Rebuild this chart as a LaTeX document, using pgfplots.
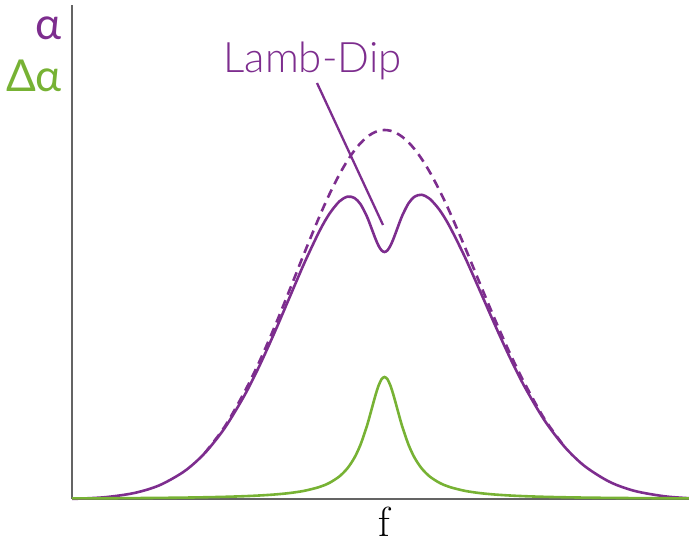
\documentclass[border=0pt]{standalone}
\usepackage{pgfplots}
\pgfplotsset{compat=1.18}
\usepackage{fontspec}
\newfontfamily\lato{Lato}
\newfontfamily\latolight{Lato Light}

\definecolor{absorb}{RGB}{125,45,142}
\definecolor{diff}{RGB}{119,178,52}
\definecolor{axisgray}{RGB}{100,100,100}

\begin{document}
\begin{tikzpicture}
\useasboundingbox (0,0) rectangle (689pt,545pt);
\begin{axis}[
  at={(72pt,46pt)}, anchor=south west,
  scale only axis, width=617pt, height=494pt,
  xmin=72, xmax=689, ymin=0, ymax=494,
  axis lines=left,
  axis line style={-, draw=axisgray, line width=1.8pt},
  xtick=\empty, ytick=\empty,
  clip=false,
]
% Doppler-broadened profile without saturation (tails coincide with the solid curve)
\addplot[absorb, line width=2.6pt, dash pattern=on 9pt off 6pt, smooth] coordinates {
(204.5,45.60) (224.5,72.0) (244.5,107.08) (259.5,137.62) (274.5,171.91) (289.5,208.75)
(304.5,246.37) (319.5,282.62) (329.5,304.86) (339.5,324.72) (347.5,338.45)
(354.5,348.62) (360.5,355.82) (366.5,361.53) (372.5,365.66) (378.5,368.16)
(384.5,369) (390.5,368.22) (396.5,365.87) (402.5,362.00) (408.5,356.65)
(414.5,349.89) (421.5,340.33) (429.5,327.40) (439.5,308.62) (449.5,287.50)
(464.5,252.84) (479.5,216.51) (494.5,180.55) (509.5,146.61) (524.5,115.93)
(544.5,80.0) (564.5,52.29)
};
% Saturated absorption with the Lamb dip
\addplot[absorb, line width=2.6pt, smooth] coordinates {
(72,0.06) (104.5,1.73) (134.5,6.03) (159.5,13.73) (184.5,27.82) (204.5,45.60)
(224.5,70.65) (244.5,103.60) (259.5,133.28) (274.5,166.37) (289.5,201.43)
(304.5,236.30) (319.5,267.98) (329.5,285.35) (339.5,297.70) (347.5,302.32)
(354.5,301.01) (360.5,294.82) (366.5,283.45) (369.5,276.07) (372.5,268.06)
(375.5,260.16) (378.5,253.34) (381.5,248.67) (384.5,247)
(387.5,248.70) (390.5,253.40) (393.5,260.28) (396.5,268.27) (399.5,276.40)
(402.5,283.92) (408.5,295.65) (414.5,302.28) (421.5,304.20) (429.5,300.38)
(439.5,289.11) (449.5,272.86) (464.5,242.77) (479.5,209.19) (494.5,175.01)
(509.5,142.27) (524.5,112.45) (544.5,78.65) (564.5,52.29) (584.5,33.01)
(609.5,17.18) (634.5,8.09) (664.5,2.70) (689,0.79)
};
% Difference signal
\addplot[diff, line width=2.6pt, smooth] coordinates {
(72,0.57) (104.5,0.72) (134.5,0.90) (159.5,1.10) (184.5,1.39) (204.5,1.72)
(224.5,2.16) (244.5,2.81) (259.5,3.51) (274.5,4.49) (289.5,5.94) (304.5,8.22)
(319.5,12.03) (329.5,16.17) (339.5,22.67) (347.5,30.80) (354.5,41.40)
(360.5,54.32) (366.5,71.72) (369.5,82.06) (372.5,93.02) (375.5,103.81)
(378.5,113.19) (381.5,119.67) (384.5,122) (387.5,119.67) (390.5,113.19)
(393.5,103.81) (396.5,93.02) (399.5,82.06) (402.5,71.72) (408.5,54.32)
(414.5,41.40) (421.5,30.80) (429.5,22.67) (439.5,16.17) (449.5,12.03)
(464.5,8.22) (479.5,5.94) (494.5,4.49) (509.5,3.51) (524.5,2.81) (544.5,2.16)
(564.5,1.72) (584.5,1.39) (609.5,1.10) (634.5,0.90) (664.5,0.72) (689,0.61)
};
% Pointer to the dip
\addplot[absorb, line width=2.3pt] coordinates {(317,416) (383,274)};

\node[anchor=base, text=absorb, font=\latolight\fontsize{42}{42}\selectfont, inner sep=0pt]
  at (axis cs:312.5,426) {Lamb-Dip};
\node[anchor=base east, text=absorb, font=\lato\fontsize{44}{44}\selectfont, inner sep=0pt]
  at (axis cs:62,459) {α};
\node[anchor=base east, text=diff, font=\lato\fontsize{44}{44}\selectfont, inner sep=0pt]
  at (axis cs:62,407) {Δα};
\node[anchor=base, font=\rmfamily\fontsize{42}{42}\selectfont, inner sep=0pt]
  at (axis cs:384,-38) {f};
\end{axis}
\end{tikzpicture}
\end{document}
